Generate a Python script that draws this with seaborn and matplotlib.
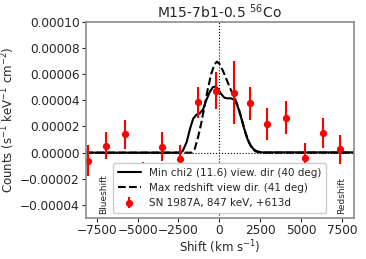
import numpy as np
import pandas as pd
import matplotlib
matplotlib.use("Agg")
import matplotlib.pyplot as plt
import seaborn as sns

# Observed line profile (SN 1987A, 847 keV, +613d)
obs_shift = [-8000, -6900, -5780, -4670, -3500, -2380, -1280, -200, 870, 1900, 2930, 4070, 5210, 6340, 7400]
obs_counts = [-0.61e-5, 0.53e-5, 1.40e-5, -1.90e-5, 0.46e-5, -0.50e-5, 3.85e-5, 4.73e-5, 4.58e-5, 3.77e-5, 2.19e-5, 2.67e-5, -0.38e-5, 1.48e-5, 0.26e-5]
obs_err = [1.20e-5, 1.05e-5, 1.10e-5, 1.20e-5, 1.10e-5, 1.05e-5, 1.20e-5, 1.40e-5, 2.40e-5, 1.27e-5, 1.20e-5, 1.27e-5, 1.15e-5, 1.15e-5, 1.12e-5]

# Model: min chi2 viewing direction
min_shift = [-8200, -2500, -2250, -2000, -1800, -1600, -1400, -1200, -1000, -800, -600, -400, -250, -100,
             100, 300, 500, 700, 900, 1100, 1300, 1500, 1700, 1900, 2100, 2300, 2600, 8200]
min_counts = [0, 0, 0.1e-5, 0.8e-5, 1.8e-5, 2.6e-5, 2.9e-5, 3.0e-5, 3.3e-5, 4.0e-5, 4.6e-5, 5.0e-5, 5.05e-5, 4.9e-5,
              4.5e-5, 4.2e-5, 4.15e-5, 4.15e-5, 4.05e-5, 3.6e-5, 2.8e-5, 1.9e-5, 1.1e-5, 0.55e-5, 0.25e-5, 0.1e-5, 0.02e-5, 0.02e-5]

# Model: max redshift viewing direction
max_shift = [-8200, -1700, -1500, -1300, -1100, -900, -700, -500, -300, -150, 0, 200, 400, 600, 800,
             1000, 1200, 1400, 1600, 1800, 2000, 2200, 2500, 8200]
max_counts = [0, 0, 0.3e-5, 1.2e-5, 2.3e-5, 3.6e-5, 4.9e-5, 6.0e-5, 6.75e-5, 6.95e-5, 6.8e-5, 6.3e-5, 5.7e-5, 5.1e-5, 4.5e-5,
              4.0e-5, 3.3e-5, 2.4e-5, 1.5e-5, 0.8e-5, 0.35e-5, 0.1e-5, 0, 0]

sns.set_style("white")
plt.rcParams["axes.edgecolor"] = "#8c8c8c"
plt.rcParams["axes.linewidth"] = 1.2

fig = plt.figure(figsize=(3.66, 2.59), dpi=100)
ax = fig.add_axes([0.235, 0.158, 0.731, 0.758])

ax.axhline(0, color="black", ls=":", lw=0.8)
ax.axvline(0, color="black", ls=":", lw=0.8)

sns.lineplot(x=min_shift, y=min_counts, ax=ax, color="black", lw=1.5,
             label="Min chi2 (11.6) view. dir (40 deg)")
sns.lineplot(x=max_shift, y=max_counts, ax=ax, color="black", lw=1.5, ls="--",
             label="Max redshift view dir. (41 deg)")
ax.errorbar(obs_shift, obs_counts, yerr=obs_err, fmt="o", color="red", ms=4.2, elinewidth=1.5,
            label="SN 1987A, 847 keV, +613d")

ax.set_xlim(-8150, 8200)
ax.set_ylim(-0.00005, 0.0001)
ax.set_yticks([-0.00004, -0.00002, 0, 0.00002, 0.00004, 0.00006, 0.00008, 0.0001])
ax.yaxis.set_major_formatter(matplotlib.ticker.FuncFormatter(lambda v, p: f"{v:.5f}".replace("-", "\u2212")))
ax.set_xticks([-7500, -5000, -2500, 0, 2500, 5000, 7500])
ax.tick_params(axis="both", labelsize=8.7, direction="out", length=3, width=0.8, left=True, bottom=True, pad=1.5)

ax.text(-7100, -0.000047, "Blueshift", rotation=90, fontsize=6.5, ha="center", va="bottom")
ax.text(7450, -0.000047, "Redshift", rotation=90, fontsize=6.5, ha="center", va="bottom")

ax.set_xlabel("Shift (km s$^{-1}$)", fontsize=8.5, labelpad=1)
ax.set_ylabel("Counts (s$^{-1}$ keV$^{-1}$ cm$^{-2}$)", fontsize=8.5, labelpad=2)
ax.set_title("M15-7b1-0.5 $^{56}$Co", fontsize=10, pad=3)

ax.legend(loc="lower center", fontsize=7.5, frameon=True, framealpha=1, borderpad=0.45,
          handlelength=2.2, labelspacing=0.5, bbox_to_anchor=(0.5, 0.0))

fig.savefig("out.png", dpi=100)
